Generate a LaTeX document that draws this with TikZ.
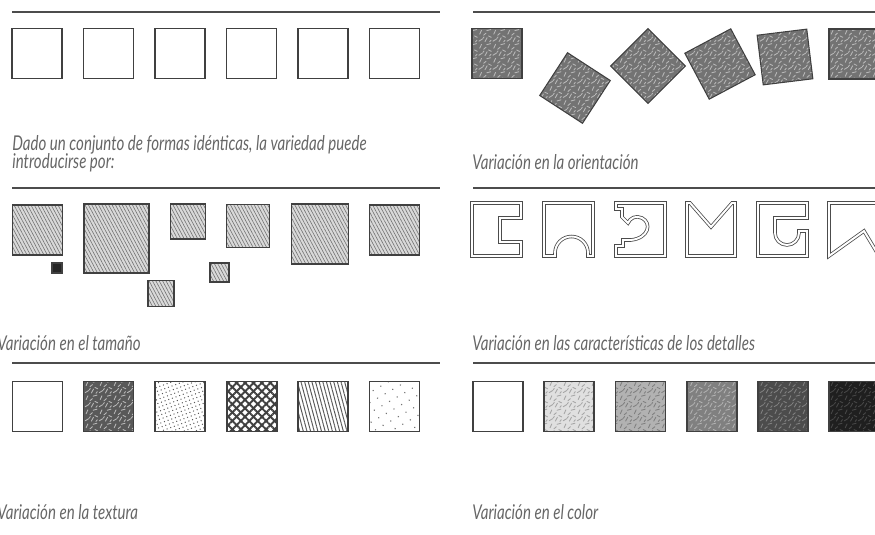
\documentclass[tikz,border=0pt]{standalone}
\usepackage{fontspec}
\newfontfamily\capfont{Lato}[FakeStretch=0.74]
\usepackage{tikz}
\usetikzlibrary{patterns, patterns.meta}

% pencil texture tile
\pgfdeclarepatternformonly{scribble}{\pgfqpoint{-1pt}{-1pt}}{\pgfqpoint{9pt}{9pt}}{\pgfqpoint{8pt}{8pt}}{%
  \pgfsetlinewidth{0.5pt}\pgfsetroundcap
  \pgfpathmoveto{\pgfqpoint{0.5pt}{1pt}}\pgfpathlineto{\pgfqpoint{2.5pt}{2.2pt}}
  \pgfpathmoveto{\pgfqpoint{4pt}{0.8pt}}\pgfpathlineto{\pgfqpoint{5.2pt}{3pt}}
  \pgfpathmoveto{\pgfqpoint{6pt}{4pt}}\pgfpathlineto{\pgfqpoint{7.6pt}{3.2pt}}
  \pgfpathmoveto{\pgfqpoint{1pt}{5pt}}\pgfpathlineto{\pgfqpoint{2pt}{7.2pt}}
  \pgfpathmoveto{\pgfqpoint{3.2pt}{4.4pt}}\pgfpathlineto{\pgfqpoint{4.6pt}{5.6pt}}
  \pgfpathmoveto{\pgfqpoint{5pt}{7pt}}\pgfpathlineto{\pgfqpoint{7.2pt}{7.6pt}}
  \pgfpathmoveto{\pgfqpoint{2.8pt}{2.6pt}}\pgfpathlineto{\pgfqpoint{3.4pt}{3.4pt}}
  \pgfpathmoveto{\pgfqpoint{6.6pt}{0.6pt}}\pgfpathlineto{\pgfqpoint{7.4pt}{1.6pt}}
  \pgfusepath{stroke}}

\begin{document}
\begin{tikzpicture}[x=0.2mm, y=0.2mm,
    box/.style={draw=black!75, line width=0.6pt, minimum size=10mm, inner sep=0pt, outer sep=0pt},
    px/.style={minimum size=#1*0.2mm},
    rough/.style={box, preaction={fill=black!55}, pattern=scribble, pattern color=black!28},
    hatch/.style={box, preaction={fill=black!15}, pattern={Lines[angle=-62, distance=1.7pt, line width=0.35pt]}, pattern color=black!55},
    tone/.style 2 args={box, preaction={fill=black!#1}, pattern=scribble, pattern color=black!#2},
    outline/.style={draw=black!70, line width=0.45pt, double=white, double distance=1.1pt, line join=miter},
    rule/.style={draw=black!70, line width=0.9pt},
    caption/.style={font=\capfont\itshape\fontsize{11.6}{13}\selectfont, text=black!60, anchor=base west, inner sep=0pt} ]
    \useasboundingbox (0,0) rectangle (875,-535);

    %Rules
    \foreach \y in {12,188,363} {
      \draw[rule] (12,-\y) -- (440,-\y);
      \draw[rule] (473,-\y) -- (875,-\y);
    }

    %Identical forms
    \foreach \i in {0,...,5}
      \node[box] (plain\i) at (37+71.5*\i,-53.5) {};
    \node[caption] (intro1) at (12,-151) {Dado un conjunto de formas idénticas, la variedad puede};
    \node[caption] (intro2) at (12,-169) {introducirse por:};

    %Orientation
    \node[rough] (orient1) at (497,-53.5) {};
    \node[rough, rotate=-33, px=51] (orient2) at (575,-88) {};
    \node[rough, rotate=45, px=53] (orient3) at (648,-66) {};
    \node[rough, rotate=28, px=52] (orient4) at (720,-64) {};
    \node[rough, rotate=7] (orient5) at (785,-57) {};
    \node[rough] (orient6) at (854,-54) {};
    \node[caption] (orient_cap) at (472,-170) {Variación en la orientación};

    %Size
    \node[hatch] (size1) at (37.5,-230) {};
    \node[box, fill=black!85, px=10] (size2) at (57,-268) {};
    \node[hatch, minimum width=65*0.2mm, minimum height=69*0.2mm] (size3) at (116.5,-238.5) {};
    \node[hatch, px=26] (size4) at (161,-293.5) {};
    \node[hatch, px=35] (size5) at (188,-221.5) {};
    \node[hatch, px=19] (size6) at (219.5,-272.5) {};
    \node[hatch, px=43] (size7) at (248,-226) {};
    \node[hatch, minimum width=57*0.2mm, minimum height=60*0.2mm] (size8) at (320,-234) {};
    \node[hatch] (size9) at (394.5,-230) {};
    \node[caption] (size_cap) at (-3,-351) {Variación en el tamaño};

    %Details
    \draw[outline, shift={(472,-203)}] (0,0) -- (49,0) -- (49,-15) -- (28,-15) -- (28,-39) -- (49,-39) -- (49,-53) -- (0,-53) -- cycle;
    \draw[outline, shift={(544,-203)}] (0,0) -- (49,0) -- (49,-53) -- (44,-53) -- (44,-50) arc (0:180:16.5) -- (11,-53) -- (0,-53) -- cycle;
    \draw[outline, shift={(616,-203)}] (0,0) -- (49,0) -- (49,-53) -- (0,-53) -- (0,-43) -- (7,-43) -- (7,-37) -- (15,-37)
      .. controls (33,-35) and (36,-20) .. (26,-15) .. controls (20,-12) and (14,-15) .. (12,-20) -- (6,-14) -- (6,-6) -- (0,-6) -- cycle;
    \draw[outline, shift={(687,-203)}] (0,0) -- (3,0) -- (24,-24) -- (45,0) -- (48,0) -- (48,-53) -- (0,-53) -- cycle;
    \draw[outline, shift={(758,-203)}] (0,0) -- (49,0) -- (49,-15) -- (17,-15) -- (17,-30) arc (180:360:12) -- (41,-28) -- (49,-28) -- (49,-53) -- (0,-53) -- cycle;
    \draw[outline, shift={(829,-203)}] (0,0) -- (50,0) -- (50,-53) -- (35,-28) -- (0,-53) -- cycle;
    \node[caption] (detail_cap) at (472,-351) {Variación en las características de los detalles};

    %Texture
    \node[box] (tex1) at (37.5,-406.5) {};
    \node[rough, preaction={fill=black!65}] (tex2) at (108.5,-406.5) {};
    \node[box, pattern={Dots[distance=2.2pt, radius=0.4pt, angle=20]}, pattern color=black!65] (tex3) at (180,-406.5) {};
    \node[box, preaction={pattern={Lines[angle=45, distance=3.4pt, line width=1.1pt]}, pattern color=black!75},
      pattern={Lines[angle=-45, distance=3.4pt, line width=1.1pt]}, pattern color=black!75] (tex4) at (252,-406.5) {};
    \node[box, pattern={Lines[angle=105, distance=2pt, line width=0.55pt]}, pattern color=black!65] (tex5) at (323,-406.5) {};
    \node[box, pattern={Dots[distance=5pt, radius=0.45pt, angle=30]}, pattern color=black!55] (tex6) at (394.5,-406.5) {};
    \node[caption] (tex_cap) at (-3,-520) {Variación en la textura};

    %Colour
    \node[box] (col1) at (498,-406.5) {};
    \node[tone={12}{35}] (col2) at (569,-406.5) {};
    \node[tone={30}{50}] (col3) at (640.5,-406.5) {};
    \node[tone={50}{30}] (col4) at (712,-406.5) {};
    \node[tone={70}{50}] (col5) at (783,-406.5) {};
    \node[tone={88}{72}] (col6) at (854,-406.5) {};
    \node[caption] (col_cap) at (472,-520) {Variación en el color};
\end{tikzpicture}
\end{document}
